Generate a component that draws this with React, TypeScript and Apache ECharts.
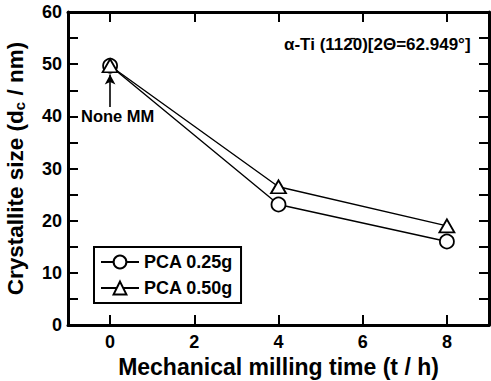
import React, { useEffect, useRef } from "react";
import * as echarts from "echarts";

const times = [0, 4, 8];
const pca025 = [49.7, 23.1, 16.0];
const pca050 = [49.7, 26.5, 19.0];
const seriesNames = ["PCA 0.25g", "PCA 0.50g"];
const xTicks = [0, 2, 4, 6, 8];
const xAxisTitle = "Mechanical milling time (t / h)";
const annotation = "α-Ti (112\u03040)[2Θ=62.949°]";
const noteText = "None MM";

const FONT = "Liberation Sans, Arial, sans-serif";

export default function App() {
  const ref = useRef<HTMLDivElement>(null);
  useEffect(() => {
    if (!ref.current) return;
    const chart = echarts.init(ref.current, null, { renderer: "svg" });
    const axisLine = { show: true, onZero: false, lineStyle: { color: "#000", width: 3 } };
    const tick = { show: true, inside: true, length: 10, lineStyle: { color: "#000", width: 2 } };
    const mk = (arr: number[]) => times.map((t, i) => [t, arr[i]]);
    chart.setOption({
      animation: false,
      textStyle: { fontFamily: FONT },
      grid: { left: 68, right: 2, top: 12, bottom: 56, containLabel: false, outerBoundsMode: "none" },
      xAxis: [
        {
          type: "value",
          min: -1,
          max: 9,
          position: "bottom",
          axisLine,
          axisTick: { ...tick, customValues: xTicks },
          axisLabel: { customValues: xTicks, color: "#000", fontSize: 18, fontWeight: "bold", fontFamily: FONT, margin: 8 },
          splitLine: { show: false },
          name: xAxisTitle,
          nameLocation: "middle",
          nameGap: 28,
          nameTextStyle: { color: "#000", fontSize: 23, fontWeight: "bold", fontFamily: FONT },
        },
        {
          type: "value",
          min: -1,
          max: 9,
          position: "top",
          axisLine,
          axisTick: { ...tick, customValues: xTicks },
          axisLabel: { show: false },
          splitLine: { show: false },
        },
      ],
      yAxis: [
        {
          type: "value",
          min: 0,
          max: 60,
          interval: 10,
          position: "left",
          axisLine,
          axisTick: tick,
          minorTick: { show: true, splitNumber: 2, length: 10, lineStyle: { color: "#000", width: 2 } },
          axisLabel: { color: "#000", fontSize: 18, fontWeight: "bold", fontFamily: FONT, margin: 6 },
          splitLine: { show: false },
          name: "{a|Crystallite size (d}{s|c}{a| / nm)}",
          nameLocation: "middle",
          nameGap: 41,
          nameTextStyle: {
            color: "#000",
            rich: {
              a: { fontSize: 22.5, fontWeight: "bold", fontFamily: FONT, color: "#000" },
              s: { fontSize: 15, fontWeight: "bold", fontFamily: FONT, color: "#000", verticalAlign: "bottom", padding: [9, 0, 0, 0] },
            },
          },
        },
        {
          type: "value",
          min: 0,
          max: 60,
          interval: 10,
          position: "right",
          axisLine,
          axisTick: tick,
          minorTick: { show: true, splitNumber: 2, length: 10, lineStyle: { color: "#000", width: 2 } },
          axisLabel: { show: false },
          splitLine: { show: false },
        },
      ],
      legend: {
        orient: "vertical",
        left: 94,
        top: 247,
        itemWidth: 38,
        itemHeight: 16,
        itemGap: 8,
        padding: [6, 8, 6, 6],
        borderColor: "#000",
        borderWidth: 2,
        textStyle: { color: "#000", fontSize: 18, fontWeight: "bold", fontFamily: FONT },
        data: seriesNames,
      },
      series: [
        {
          name: seriesNames[0],
          type: "line",
          data: mk(pca025),
          symbol: "circle",
          symbolSize: 14,
          itemStyle: { color: "#fff", borderColor: "#000", borderWidth: 1.8 },
          lineStyle: { color: "#000", width: 1.4 },
          z: 3,
          markLine: {
            silent: true,
            symbol: ["none", "arrow"],
            symbolSize: [8, 10],
            label: { show: false },
            lineStyle: { color: "#000", width: 1.6, type: "solid" },
            data: [[{ coord: [0, 41.8] }, { coord: [0, 48.0] }]],
          },
        },
        {
          name: seriesNames[1],
          type: "line",
          data: mk(pca050),
          symbol: "triangle",
          symbolSize: [15, 13],
          itemStyle: { color: "#fff", borderColor: "#000", borderWidth: 1.8 },
          lineStyle: { color: "#000", width: 1.4 },
          z: 4,
        },
      ],
    });
    const p = chart.convertToPixel({ gridIndex: 0 }, [0, 40]) as number[];
    chart.setOption({
      graphic: [
        {
          type: "text",
          x: 81,
          y: p[1],
          style: { text: noteText, fontSize: 16.5, fontWeight: "bold", fontFamily: FONT, fill: "#000", verticalAlign: "middle" },
        },
        {
          type: "text",
          x: 284,
          y: 44,
          style: { text: annotation, fontSize: 17, fontWeight: "bold", fontFamily: FONT, fill: "#000", verticalAlign: "middle" },
        },
      ],
    });
    return () => chart.dispose();
  }, []);
  return <div ref={ref} style={{ position: "absolute", left: 0, top: 0, width: 491, height: 381 }} />;
}
